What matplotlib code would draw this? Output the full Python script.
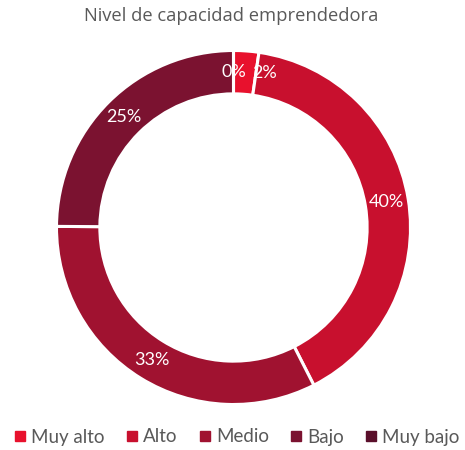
import matplotlib
matplotlib.use("Agg")
import matplotlib.pyplot as plt
from matplotlib.lines import Line2D
import numpy as np

title = "Nivel de capacidad emprendedora"
categories = ["Muy alto", "Alto", "Medio", "Bajo", "Muy bajo"]
values = [2.3, 40.2, 32.6, 24.9, 0.0]
labels_txt = ["2%", "40%", "33%", "25%", "0%"]
colors = ["#E8112D", "#C8102E", "#A01230", "#7B1230", "#5A0F2B"]

W, H = 465, 450
fig = plt.figure(figsize=(W / 100, H / 100), dpi=100)
fig.patch.set_facecolor("white")

cx, cy, R = 233.5, 227.5, 177.0
ax = fig.add_axes([(cx - R) / W, (H - cy - R) / H, 2 * R / W, 2 * R / H])

wedges, _ = ax.pie(values, colors=colors, startangle=90, counterclock=False,
                   radius=1.0, wedgeprops=dict(width=0.245, edgecolor="white", linewidth=2.2))
ax.set_xlim(-1, 1)
ax.set_ylim(-1, 1)
ax.set_aspect("auto")
ax.axis("off")

lab_r = 0.877
offsets = {0: (0.11, 0.0), 4: (0.0, 0.0)}
for i, w in enumerate(wedges):
    ang = np.deg2rad((w.theta1 + w.theta2) / 2)
    x, y = lab_r * np.cos(ang), lab_r * np.sin(ang)
    dx, dy = offsets.get(i, (0, 0))
    ax.text(x + dx, y + dy, labels_txt[i], ha="center", va="center",
            color="white", fontsize=13, family=["Lato", "DejaVu Sans"])

fig.text(231 / W, 1 - 16 / H, title, ha="center", va="center",
         fontsize=13.2, color="#595959", family=["Open Sans", "DejaVu Sans"])

handles = [Line2D([], [], marker="s", linestyle="none", markersize=6.5,
                  markerfacecolor=c, markeredgecolor=c) for c in colors]
leg = fig.legend(handles, categories, loc="center", bbox_to_anchor=(236 / W, 1 - 437 / H),
                 ncol=5, frameon=False, handletextpad=0.2, columnspacing=1.05,
                 handlelength=0.8, borderaxespad=0, borderpad=0,
                 prop=dict(family=["Lato", "DejaVu Sans"], size=13.5))
for t in leg.get_texts():
    t.set_color("#595959")

fig.savefig("out.png", dpi=100, facecolor="white")
